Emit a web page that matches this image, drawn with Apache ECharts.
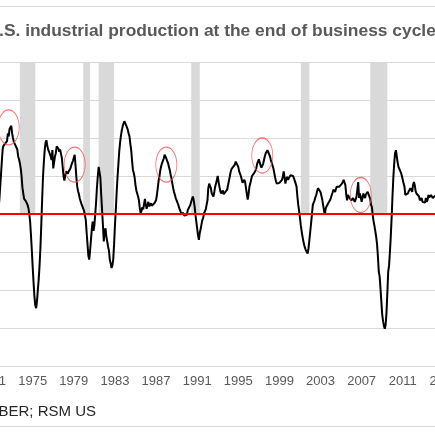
<!DOCTYPE html>
<html>
<head>
<meta charset="utf-8">
<script src="https://cdn.jsdelivr.net/npm/echarts@6/dist/echarts.min.js"></script>
<style>
  html, body { margin: 0; padding: 0; width: 435px; height: 435px; overflow: hidden; background: #fff; }
  #main { position: absolute; left: -80px; top: 0; width: 592px; height: 435px; }
</style>
</head>
<body>
<div id="main"></div>
<script>
// year-over-year % change in U.S. industrial production, monthly from Jan 1970
var startYear = 1970;
var ipYoY = [
  0.5, -0.5, -1.0, -1.5, -2.0, -2.5, -2.8, -3.2, -4.0, -5.5, -6.5, -5.5,   // 1970
  -4.5, -4.0, -3.5, -2.8, -2.0, -1.5, -0.8, -0.5, 0.5, 1.8, 3.5, 5.2,      // 1971
  7.0, 8.6, 9.0, 8.8, 9.3, 9.1, 9.6, 10.6, 10.2, 11.2, 11.0, 11.6,         // 1972
  10.6, 10.0, 9.5, 9.4, 9.0, 9.2, 8.5, 7.6, 7.2, 6.7, 6.0, 5.0,            // 1973
  3.5, 2.7, 2.0, 1.8, 1.7, 1.5, 1.2, 0.8, 0.0, -1.0, -2.8, -4.8,           // 1974
  -7.0, -9.0, -10.8, -12.0, -12.4, -11.5, -10.0, -8.6, -6.8, -4.5, -1.5, 1.8, // 1975
  4.8, 6.8, 8.4, 9.4, 9.7, 9.0, 8.5, 8.2, 8.0, 7.6, 7.1, 8.4,              // 1976
  6.0, 6.8, 7.6, 8.0, 8.9, 9.1, 8.6, 8.2, 8.5, 8.3, 7.4, 6.2,              // 1977
  5.0, 4.4, 4.6, 5.6, 5.5, 5.3, 5.6, 5.8, 6.0, 6.4, 6.6, 7.0,              // 1978
  7.4, 7.8, 6.4, 4.8, 3.6, 3.0, 2.6, 2.0, 1.8, 1.3, 1.0, 0.9,              // 1979
  0.4, 0.2, -0.8, -2.5, -4.0, -5.5, -6.0, -4.8, -3.4, -2.0, -1.0, -2.2,    // 1980
  -1.5, 0.0, 1.5, 3.5, 5.0, 6.2, 6.3, 4.8, 2.5, 0.5, -1.5, -3.6,           // 1981
  -2.2, -1.9, -3.0, -3.6, -4.3, -4.8, -6.0, -6.5, -7.1, -6.8, -6.0, -4.0,  // 1982
  -1.5, 0.5, 2.8, 4.8, 6.5, 8.2, 9.4, 10.3, 11.0, 11.5, 11.9, 12.2,        // 1983
  12.0, 11.7, 11.4, 11.1, 10.6, 10.2, 9.2, 8.4, 7.0, 5.8, 5.4, 4.8,        // 1984
  3.8, 3.1, 2.7, 2.3, 1.8, 0.8, 0.1, 0.4, 0.9, 0.6, 0.5, 2.0,              // 1985
  1.2, 0.7, 1.1, 1.6, 1.0, 1.2, 1.4, 1.1, 1.0, 1.2, 1.4, 1.6,              // 1986
  1.8, 2.5, 3.4, 4.4, 5.0, 5.8, 6.3, 6.7, 7.0, 7.3, 7.8, 7.6,              // 1987
  7.3, 7.0, 6.7, 6.2, 5.8, 5.2, 4.7, 4.0, 3.4, 2.9, 2.5, 2.1,              // 1988
  1.8, 1.5, 1.2, 0.8, 0.5, 0.2, -0.1, 0.2, 0.1, -0.2, -0.3, -0.4,          // 1989
  -0.1, 0.5, 0.6, 0.7, 1.2, 1.6, 2.0, 2.3, 1.8, 1.0, -0.1, -1.0,           // 1990
  -1.9, -2.8, -3.4, -2.5, -2.0, -1.4, -0.8, -0.5, 0.1, 0.3, 0.6, 1.2,      // 1991
  1.8, 3.4, 4.0, 3.8, 3.4, 2.7, 2.5, 2.3, 2.9, 3.6, 4.0, 4.5,              // 1992
  5.0, 4.2, 3.6, 3.0, 2.7, 2.9, 3.1, 2.6, 2.7, 2.9, 3.1, 3.2,              // 1993
  3.3, 3.4, 4.9, 5.5, 5.9, 6.1, 6.2, 6.4, 6.5, 6.9, 6.8, 6.7,              // 1994
  6.2, 5.6, 5.4, 5.0, 4.8, 4.1, 4.0, 4.5, 4.2, 3.4, 2.6, 1.9,              // 1995
  2.6, 3.6, 4.0, 4.5, 5.0, 5.1, 5.3, 5.4, 5.7, 6.0, 6.6, 6.9,              // 1996
  7.2, 7.3, 6.4, 6.1, 6.0, 6.6, 7.1, 7.6, 8.0, 8.2, 8.4, 8.4,              // 1997
  8.3, 7.6, 7.1, 7.0, 6.9, 6.0, 5.4, 4.8, 4.3, 4.0, 3.8, 4.0,              // 1998
  4.1, 4.0, 4.0, 4.5, 4.9, 5.6, 4.8, 4.0, 4.6, 4.9, 4.5, 4.3,              // 1999
  4.7, 5.1, 5.0, 4.9, 5.0, 4.7, 4.5, 4.0, 3.6, 2.3, 1.2, 0.4,              // 2000
  -0.5, -1.5, -2.3, -3.0, -3.6, -4.1, -4.5, -4.8, -5.0, -5.2, -4.5, -3.4,  // 2001
  -2.3, -1.2, 0.0, 1.2, 1.5, 1.8, 2.2, 2.5, 3.0, 3.4, 3.3, 3.2,            // 2002
  2.9, 2.7, 1.9, 1.2, 0.5, -0.1, 0.7, 1.0, 1.2, 1.4, 1.6, 1.8,             // 2003
  2.1, 2.3, 2.8, 3.2, 3.1, 2.9, 3.3, 3.6, 3.7, 3.8, 3.6, 3.4,              // 2004
  3.7, 4.0, 4.2, 4.5, 4.3, 3.8, 2.6, 1.8, 2.5, 2.4, 2.1, 1.9,              // 2005
  1.8, 2.0, 2.1, 1.9, 1.6, 1.9, 2.3, 3.2, 4.2, 2.1, 2.7, 2.2,              // 2006
  1.6, 2.1, 2.7, 2.4, 2.1, 2.6, 2.7, 2.9, 2.8, 2.7, 2.0, 1.2,              // 2007
  0.9, -0.2, -1.0, -1.6, -2.3, -3.0, -4.0, -5.6, -7.6, -8.2, -9.8, -11.5,  // 2008
  -13.2, -14.1, -14.7, -15.1, -14.6, -13.0, -10.4, -7.6, -6.8, -5.0, -3.0, -0.5, // 2009
  2.3, 4.8, 6.6, 8.0, 8.4, 7.6, 6.8, 6.2, 6.2, 6.0, 5.4, 5.0,              // 2010
  4.5, 4.0, 3.6, 2.5, 2.4, 2.3, 2.7, 3.0, 3.2, 3.4, 3.3, 2.9,              // 2011
  3.8, 4.2, 3.8, 3.0, 2.7, 2.7, 2.6, 2.3, 1.8, 2.0, 2.1, 1.6,              // 2012
  1.8, 1.4, 1.5, 2.1, 1.6, 1.9, 2.5, 2.2, 2.1, 2.5, 2.7, 2.1,              // 2013
  2.3, 2.3, 2.4, 2.6, 2.5, 2.8, 2.7, 2.9, 3.0, 3.1, 3.2, 3.3,              // 2014
  3.0, 2.6, 2.0, 1.6, 1.2, 0.9, 1.0, 0.8, 0.3, 0.0, -0.6, -1.2             // 2015
];

// NBER recessions, peak month to trough month
var recessions = [
  ['1973-11', '1975-03'],
  ['1980-01', '1980-07'],
  ['1981-07', '1982-11'],
  ['1990-07', '1991-03'],
  ['2001-03', '2001-11'],
  ['2007-12', '2009-06']
];

// circled highs ahead of each downturn
var peakMarks = [
  ['1972-09', 11.4],
  ['1979-02', 6.5],
  ['1988-01', 6.5],
  ['1997-05', 7.7],
  ['2006-12', 2.5]
];

var labelStartYear = 1971;
var labelStep = 4;

var months = [];
for (var i = 0; i < ipYoY.length; i++) {
  var y = startYear + Math.floor(i / 12);
  var mo = i % 12 + 1;
  months.push(y + '-' + (mo < 10 ? '0' + mo : mo));
}

// shaded bars run a month either side of the NBER dates, as Excel columns do
var recessionAreas = recessions.map(function (r) {
  var a = Math.max(0, months.indexOf(r[0]) - 1);
  var b = Math.min(months.length - 1, months.indexOf(r[1]) + 1);
  return [{ xAxis: months[a], yAxis: 0 }, { xAxis: months[b], yAxis: 20 }];
});

var font = "'Liberation Sans', Arial, sans-serif";
var myChart = echarts.init(document.getElementById('main'));
var options = {
  animation: false,
  title: {
    text: 'U.S. industrial production at the end of business cycles',
    left: 'center',
    top: 23,
    padding: 0,
    textStyle: { fontSize: 17.4, fontWeight: 'bold', color: '#595959', fontFamily: font }
  },
  graphic: [
    {
      type: 'rect',
      silent: true,
      shape: { x: 0.5, y: 6.5, width: 591, height: 420 },
      style: { fill: 'none', stroke: '#d9d9d9', lineWidth: 1 }
    },
    {
      type: 'text',
      silent: true,
      style: {
        text: 'Sources: Federal Reserve, NBER; RSM US',
        x: 176, y: 412,
        textAlign: 'right', align: 'right',
        textVerticalAlign: 'middle', verticalAlign: 'middle',
        font: '15px ' + font,
        fill: '#262626'
      }
    }
  ],
  grid: { left: 61.3, right: 58.7, top: 62, bottom: 69 },
  xAxis: {
    type: 'category',
    data: months,
    boundaryGap: false,
    axisLine: { lineStyle: { color: '#d9d9d9', width: 1 } },
    axisTick: { show: false },
    splitLine: { show: false },
    axisLabel: {
      interval: function (index, value) {
        var yr = +value.slice(0, 4);
        return value.slice(5) === '01' && (yr - labelStartYear) % labelStep === 0;
      },
      formatter: function (value) { return value.slice(0, 4); },
      color: '#595959',
      fontSize: 13,
      fontFamily: font,
      margin: 9
    }
  },
  yAxis: {
    type: 'value',
    min: -20,
    max: 20,
    interval: 5,
    axisLine: { show: false },
    axisTick: { show: false },
    axisLabel: { show: false },
    splitLine: { lineStyle: { color: '#d9d9d9', width: 1 } }
  },
  series: [
    {
      name: 'recessions',
      type: 'line',
      data: [],
      z: 1,
      silent: true,
      markArea: { silent: true, itemStyle: { color: '#d9d9d9' }, data: recessionAreas }
    },
    {
      name: 'zero',
      type: 'line',
      data: [],
      z: 2,
      silent: true,
      markLine: {
        silent: true,
        symbol: 'none',
        label: { show: false },
        lineStyle: { color: '#ff0000', width: 2, type: 'solid' },
        data: [{ yAxis: 0 }]
      }
    },
    {
      name: 'Industrial production',
      type: 'line',
      data: ipYoY,
      z: 3,
      symbol: 'none',
      lineStyle: { color: '#000000', width: 2 },
      itemStyle: { color: '#000000' }
    },
    {
      name: 'peaks',
      type: 'scatter',
      data: peakMarks,
      z: 4,
      silent: true,
      symbol: 'circle',
      symbolSize: [21, 35],
      itemStyle: { color: 'rgba(0,0,0,0)', borderColor: '#ff4d4d', borderWidth: 1 }
    }
  ]
};
myChart.setOption(options, true);
</script>
</body>
</html>
